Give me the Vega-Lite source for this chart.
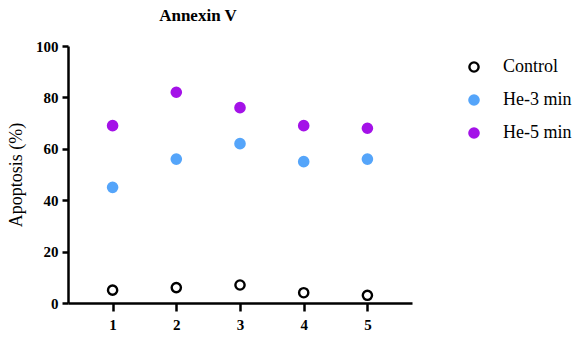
{
  "$schema": "https://vega.github.io/schema/vega-lite/v6.json",
  "width": 344,
  "height": 257,
  "autosize": {"type": "none"},
  "padding": {"left": 68, "top": 46, "right": 164, "bottom": 35},
  "background": "white",
  "title": {
    "text": "Annexin V",
    "fontSize": 17,
    "fontWeight": "bold",
    "color": "black",
    "anchor": "middle",
    "dx": -42,
    "offset": 14
  },
  "data": {
    "values": [
      {"x": 1, "group": "Control", "y": 5},
      {"x": 2, "group": "Control", "y": 6},
      {"x": 3, "group": "Control", "y": 7},
      {"x": 4, "group": "Control", "y": 4},
      {"x": 5, "group": "Control", "y": 3},
      {"x": 1, "group": "He-3 min", "y": 45},
      {"x": 2, "group": "He-3 min", "y": 56},
      {"x": 3, "group": "He-3 min", "y": 62},
      {"x": 4, "group": "He-3 min", "y": 55},
      {"x": 5, "group": "He-3 min", "y": 56},
      {"x": 1, "group": "He-5 min", "y": 69},
      {"x": 2, "group": "He-5 min", "y": 82},
      {"x": 3, "group": "He-5 min", "y": 76},
      {"x": 4, "group": "He-5 min", "y": 69},
      {"x": 5, "group": "He-5 min", "y": 68}
    ]
  },
  "mark": {"type": "point", "shape": "circle", "size": 85, "strokeWidth": 2.4, "opacity": 1, "filled": false},
  "encoding": {
    "x": {
      "field": "x",
      "type": "quantitative",
      "scale": {"domain": [0.3, 5.7], "nice": false, "zero": false},
      "axis": {
        "values": [1, 2, 3, 4, 5],
        "title": null,
        "grid": false,
        "domainColor": "black",
        "domainWidth": 2.5,
        "tickColor": "black",
        "tickWidth": 2.5,
        "tickSize": 8,
        "labelFontSize": 15,
        "labelFontWeight": "bold",
        "labelColor": "black",
        "labelPadding": 6
      }
    },
    "y": {
      "field": "y",
      "type": "quantitative",
      "scale": {"domain": [0, 100], "nice": false},
      "axis": {
        "values": [0, 20, 40, 60, 80, 100],
        "title": "Apoptosis (%)",
        "titleFontSize": 18,
        "titleFontWeight": "normal",
        "titleColor": "black",
        "titlePadding": 10,
        "grid": false,
        "domainColor": "black",
        "domainWidth": 2.5,
        "tickColor": "black",
        "tickWidth": 2.5,
        "tickSize": 6,
        "labelFontSize": 15,
        "labelFontWeight": "bold",
        "labelColor": "black",
        "labelPadding": 4
      }
    },
    "fill": {
      "field": "group",
      "type": "nominal",
      "scale": {"domain": ["Control", "He-3 min", "He-5 min"], "range": ["white", "#55A5FA", "#A412E8"]},
      "legend": {
        "title": null,
        "orient": "none",
        "legendX": 397,
        "legendY": 12,
        "labelFontSize": 18,
        "labelColor": "black",
        "rowPadding": 13,
        "labelOffset": 20,
        "symbolSize": 85,
        "symbolStrokeWidth": 2.4
      }
    },
    "stroke": {
      "field": "group",
      "type": "nominal",
      "scale": {"domain": ["Control", "He-3 min", "He-5 min"], "range": ["black", "#55A5FA", "#A412E8"]},
      "legend": {
        "title": null,
        "orient": "none",
        "legendX": 397,
        "legendY": 12,
        "labelFontSize": 18,
        "labelColor": "black",
        "rowPadding": 13,
        "labelOffset": 20,
        "symbolSize": 85,
        "symbolStrokeWidth": 2.4
      }
    }
  },
  "config": {
    "font": "Liberation Serif",
    "view": {"stroke": null},
    "axis": {"labelFont": "Liberation Serif", "titleFont": "Liberation Serif"},
    "legend": {"labelFont": "Liberation Serif", "titleFont": "Liberation Serif"},
    "title": {"font": "Liberation Serif"}
  }
}
